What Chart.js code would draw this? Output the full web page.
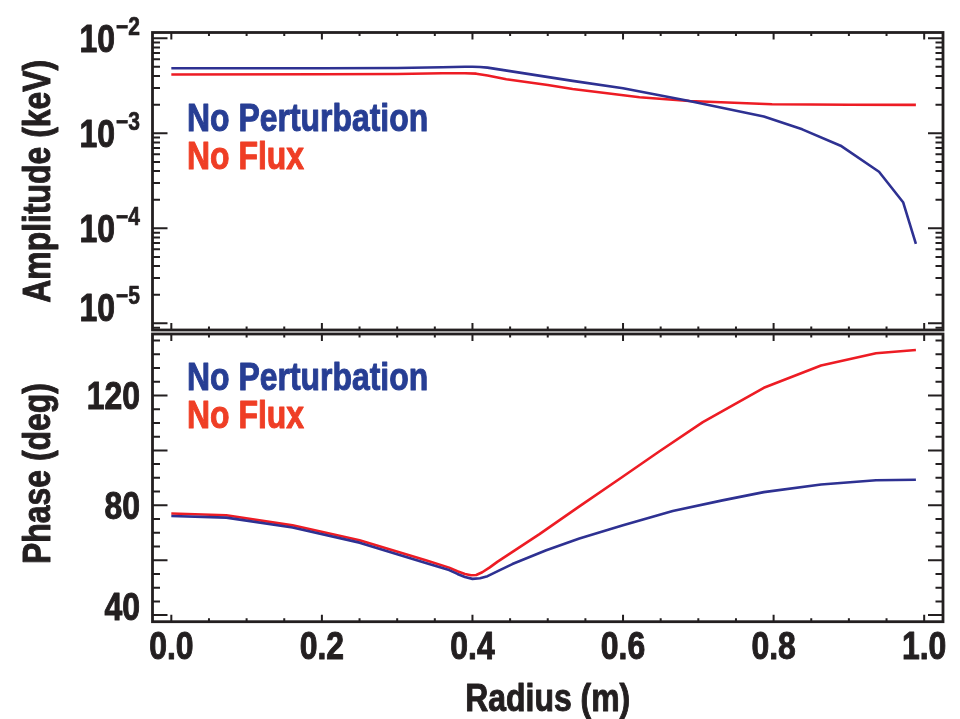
<!DOCTYPE html>
<html><head><meta charset="utf-8">
<script src="https://cdn.jsdelivr.net/npm/chart.js@4.4.1/dist/chart.umd.min.js"></script>
<style>
html,body{margin:0;padding:0;background:#fff;}
#wrap{position:relative;width:960px;height:719px;overflow:hidden;background:#fff;}
canvas{position:absolute;left:0;}
#c1{top:0}
#c2{top:332px}
</style></head><body>
<div id="wrap"><canvas id="c1" width="960" height="332"></canvas><canvas id="c2" width="960" height="387"></canvas></div>
<script>
const FONT = "'Liberation Sans', Arial, sans-serif";
const SX = 0.84; // horizontal condensing of the bold sans text
const INK = '#231f20';
const BLUE = '#2e3192';
const RED = '#ed1c24';
const BLUE_TEXT = '#273e94';
const RED_TEXT = '#ef3e25';

// ---- Amplitude panel data (keV) ----
const ampRadiusNoPert = [0, 0.2, 0.3, 0.36, 0.39, 0.4, 0.41, 0.42, 0.533, 0.6, 0.688, 0.787, 0.838, 0.889, 0.94, 0.972, 0.989];
const ampNoPert = [4.83e-3, 4.84e-3, 4.86e-3, 4.95e-3, 5.01e-3, 5.02e-3, 4.99e-3, 4.91e-3, 3.56e-3, 2.98e-3, 2.19e-3, 1.50e-3, 1.10e-3, 7.40e-4, 3.94e-4, 1.88e-4, 6.84e-5];
const ampRadiusNoFlux = [0, 0.2, 0.3, 0.36, 0.39, 0.405, 0.42, 0.445, 0.5, 0.533, 0.622, 0.688, 0.798, 0.9, 0.989];
const ampNoFlux = [4.16e-3, 4.18e-3, 4.21e-3, 4.28e-3, 4.29e-3, 4.24e-3, 4.05e-3, 3.70e-3, 3.22e-3, 2.92e-3, 2.39e-3, 2.19e-3, 2.02e-3, 2.00e-3, 1.99e-3];

// ---- Phase panel data (deg) ----
const phaseRadiusNoPert = [0, 0.073, 0.161, 0.25, 0.338, 0.369, 0.38, 0.39, 0.4, 0.41, 0.42, 0.435, 0.453, 0.498, 0.542, 0.6, 0.666, 0.732, 0.787, 0.863, 0.936, 0.989];
const phaseNoPert = [76.1, 75.5, 71.9, 66.4, 59.0, 56.4, 55.0, 53.9, 53.2, 53.4, 54.2, 56.2, 58.6, 63.6, 67.9, 72.7, 77.9, 81.8, 84.8, 87.6, 89.1, 89.3];
const phaseRadiusNoFlux = [0, 0.073, 0.161, 0.25, 0.338, 0.369, 0.38, 0.39, 0.398, 0.405, 0.413, 0.423, 0.433, 0.489, 0.542, 0.599, 0.648, 0.706, 0.787, 0.863, 0.936, 0.989];
const phaseNoFlux = [77.0, 76.4, 72.7, 67.3, 60.0, 57.3, 56.0, 55.0, 54.5, 54.6, 55.6, 57.4, 59.4, 69.5, 79.6, 90.3, 99.6, 110.3, 122.8, 130.9, 135.4, 136.6];

// ---- Axes / ticks ----
const xTickValues = [0, 0.2, 0.4, 0.6, 0.8, 1.0];
const xTickLabels = ['0.0', '0.2', '0.4', '0.6', '0.8', '1.0'];
const xMinorTickValues = [0, 0.05, 0.1, 0.15, 0.2, 0.25, 0.3, 0.35, 0.4, 0.45, 0.5, 0.55, 0.6, 0.65, 0.7, 0.75, 0.8, 0.85, 0.9, 0.95, 1.0];
const ampDecades = [1e-2, 1e-3, 1e-4, 1e-5];
const ampDecadeExponents = ['\u22122', '\u22123', '\u22124', '\u22125'];
const ampMinorMultipliers = [2, 3, 4, 5, 6, 7, 8, 9];
const phaseTickLabels = [40, 80, 120];
const phaseMajorTicks = [40, 60, 80, 100, 120];
const phaseMinorTicks = [40, 45, 50, 55, 60, 65, 70, 75, 80, 85, 90, 95, 100, 105, 110, 115, 120, 125, 130, 135, 140];
const seriesNames = ['No Perturbation', 'No Flux'];
const xTitle = 'Radius (m)';
const ampTitle = 'Amplitude (keV)';
const phaseTitle = 'Phase (deg)';

function pts(xs, ys) { return xs.map((x, i) => ({x: x, y: ys[i]})); }

function txt(ctx, s, x, y, align, size, color, rot) {
  ctx.save();
  ctx.translate(x, y);
  if (rot) ctx.rotate(rot);
  ctx.scale(SX, 1);
  ctx.font = 'bold ' + size + 'px ' + FONT;
  ctx.fillStyle = color;
  ctx.strokeStyle = color;
  ctx.lineWidth = size > 30 ? 1.0 : 0.7;
  ctx.lineJoin = 'round';
  ctx.textAlign = align;
  ctx.textBaseline = 'alphabetic';
  ctx.fillText(s, 0, 0);
  ctx.strokeText(s, 0, 0);
  ctx.restore();
}
function txtWidth(ctx, s, size) {
  ctx.save();
  ctx.font = 'bold ' + size + 'px ' + FONT;
  const w = ctx.measureText(s).width * SX;
  ctx.restore();
  return w;
}

const frameTicks = {
  id: 'frameTicks',
  afterDatasetsDraw(chart, args, o) {
    const ctx = chart.ctx, a = chart.chartArea, xs = chart.scales.x, ys = chart.scales.y;
    ctx.save();
    ctx.strokeStyle = INK;
    ctx.lineWidth = 2;
    ctx.lineCap = 'butt';
    ctx.beginPath();
    xMinorTickValues.forEach(v => {
      const px = xs.getPixelForValue(v);
      const major = xTickValues.some(m => Math.abs(m - v) < 1e-9);
      const len = major ? 7 : 3.5;
      ctx.moveTo(px, a.top); ctx.lineTo(px, a.top + len);
      ctx.moveTo(px, a.bottom); ctx.lineTo(px, a.bottom - len);
    });
    const yt = [];
    if (o.log) {
      ampDecades.forEach(d => {
        yt.push({v: d, major: true});
        ampMinorMultipliers.forEach(m => yt.push({v: d * m, major: false}));
        ampMinorMultipliers.forEach(m => yt.push({v: d * m / 10, major: false}));
      });
    } else {
      phaseMinorTicks.forEach(v => yt.push({v: v, major: phaseMajorTicks.includes(v)}));
    }
    yt.forEach(t => {
      if (t.v < ys.min || t.v > ys.max) return;
      const py = ys.getPixelForValue(t.v);
      const len = t.major ? 15 : 7.5;
      ctx.moveTo(a.left, py); ctx.lineTo(a.left + len, py);
      ctx.moveTo(a.right, py); ctx.lineTo(a.right - len, py);
    });
    ctx.stroke();
    ctx.lineWidth = 2.8;
    ctx.strokeRect(a.left, a.top, a.right - a.left, a.bottom - a.top);
    ctx.restore();

    // y tick labels
    if (o.log) {
      ampDecades.forEach((d, i) => {
        const y = Math.min(ys.getPixelForValue(d), a.bottom - o.labelFloor);
        const ew = txtWidth(ctx, ampDecadeExponents[i], 25);
        txt(ctx, ampDecadeExponents[i], 140, y - 3.5, 'right', 25, INK);
        txt(ctx, '10', 140 - ew - 1, y + 13.5, 'right', 38, INK);
      });
    } else {
      phaseTickLabels.forEach(v => {
        const y = Math.min(ys.getPixelForValue(v), a.bottom - o.labelFloor);
        txt(ctx, String(v), 140, y + 13.5, 'right', 38, INK);
      });
    }
    // y title (rotated)
    txt(ctx, o.title, 49.5, (a.top + a.bottom) / 2 + o.titleShift, 'center', 38, INK, -Math.PI / 2);
    // x tick labels + title on the lower panel
    if (o.xLabels) {
      xTickValues.forEach((v, i) => {
        txt(ctx, xTickLabels[i], xs.getPixelForValue(v), a.bottom + 37, 'center', 38, INK);
      });
      txt(ctx, xTitle, (a.left + a.right) / 2, a.bottom + 89.5, 'center', 38, INK);
    }
    // in-plot legend text
    txt(ctx, seriesNames[0], a.left + 34.5, a.top + o.legendTop, 'left', 38, BLUE_TEXT);
    txt(ctx, seriesNames[1], a.left + 34.5, a.top + o.legendTop + 38, 'left', 38, RED_TEXT);
  }
};

const lineStyle = {borderWidth: 2.6, pointRadius: 0, tension: 0, fill: false, borderJoinStyle: 'round', borderCapStyle: 'butt'};
const xBase = {
  type: 'linear', min: -0.025, max: 1.025,
  grid: {display: false, drawTicks: false}, border: {display: false},
  ticks: {display: false},
  afterBuildTicks: s => { s.ticks = xTickValues.map(v => ({value: v})); }
};

new Chart(document.getElementById('c1'), {
  type: 'line',
  data: {datasets: [
    Object.assign({label: seriesNames[0], data: pts(ampRadiusNoPert, ampNoPert), borderColor: BLUE}, lineStyle),
    Object.assign({label: seriesNames[1], data: pts(ampRadiusNoFlux, ampNoFlux), borderColor: RED}, lineStyle)
  ]},
  options: {
    responsive: false, animation: false, devicePixelRatio: 1,
    layout: {padding: {left: 0, right: 17, top: 32.5, bottom: 0}},
    plugins: {legend: {display: false}, tooltip: {enabled: false},
      frameTicks: {log: true, legendTop: 98.5, labelFloor: 23, title: ampTitle, titleShift: 0, xLabels: false}},
    scales: {
      x: Object.assign({}, xBase, {afterFit: s => { s.height = 2; }}),
      y: {
        type: 'logarithmic', min: 8.5e-6, max: 0.0115,
        grid: {display: false, drawTicks: false}, border: {display: false},
        ticks: {display: false},
        afterFit: s => { s.width = 152.5; }
      }
    }
  },
  plugins: [frameTicks]
});

new Chart(document.getElementById('c2'), {
  type: 'line',
  data: {datasets: [
    Object.assign({label: seriesNames[0], data: pts(phaseRadiusNoPert, phaseNoPert), borderColor: BLUE}, lineStyle),
    Object.assign({label: seriesNames[1], data: pts(phaseRadiusNoFlux, phaseNoFlux), borderColor: RED}, lineStyle)
  ]},
  options: {
    responsive: false, animation: false, devicePixelRatio: 1,
    layout: {padding: {left: 0, right: 17, top: 2, bottom: 0}},
    plugins: {legend: {display: false}, tooltip: {enabled: false},
      frameTicks: {log: false, legendTop: 55.5, labelFloor: 15, title: phaseTitle, titleShift: -4.3, xLabels: true}},
    scales: {
      x: Object.assign({}, xBase, {afterFit: s => { s.height = 97.3; }}),
      y: {
        type: 'linear', min: 37.6, max: 142.4,
        grid: {display: false, drawTicks: false}, border: {display: false},
        ticks: {display: false},
        afterFit: s => { s.width = 152.5; }
      }
    }
  },
  plugins: [frameTicks]
});
</script>
</body></html>
